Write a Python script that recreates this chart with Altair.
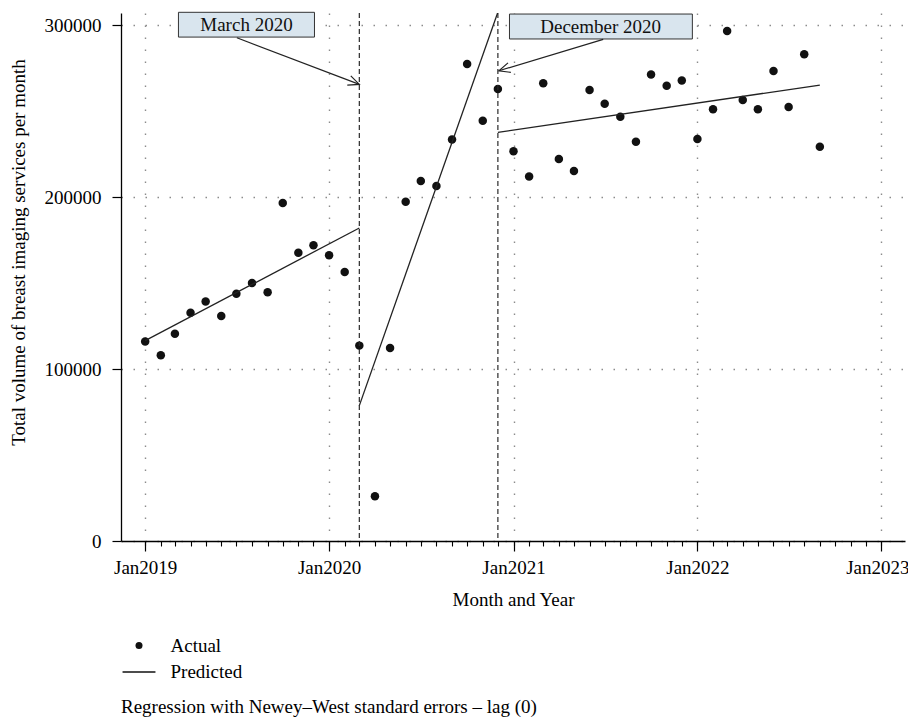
import altair as alt
import pandas as pd

FONT = "Liberation Serif"

# ---- data ----
months = [d.strftime("%Y-%m-%d") for d in pd.date_range("2019-01-01", "2022-09-01", freq="MS")]
actual = [116000, 108000, 120500, 132700, 139300, 130800, 143800, 150000, 144600, 196500, 167600, 171900,
          166100, 156400, 113600, 26000, 112200, 197300, 209300, 206400, 233500, 277300, 244400, 262800,
          226600, 212000, 266100, 222100, 215100, 262200, 254300, 246700, 232200, 271300, 264700, 267800,
          233700, 251000, 296500, 256400, 251000, 273300, 252300, 283000, 229300]

pred_dates = ["2019-01-01", "2020-03-01", "2020-03-01", "2020-12-01", "2020-12-01", "2022-09-01"]
pred_values = [116500, 182000, 78700, 307500, 237600, 265100]
pred_segment = [1, 1, 2, 2, 3, 3]

event_dates = ["2020-03-01", "2020-12-01"]

ann_labels = ["March 2020", "December 2020"]
ann_box_x0 = ["2019-03-08", "2020-12-24"]
ann_box_x1 = ["2019-12-03", "2021-12-22"]
ann_box_y0 = [293000, 291900]
ann_box_y1 = [307400, 306400]
ann_text_x = ["2019-07-21", "2021-06-23"]
ann_text_y = [300200, 299100]
arrow_from_x = ["2019-07-02", "2021-06-28"]
arrow_from_y = [292600, 291700]
arrow_to_x = ["2020-03-01", "2020-12-03"]
arrow_to_y = [265500, 273400]
arrow_angle = [20.75, 163.25]

year_ticks = [int(t.timestamp() * 1000) for t in pd.date_range("2019-01-01", "2023-01-01", freq="YS", tz="UTC")]
month_ticks = [int(t.timestamp() * 1000) for t in pd.date_range("2019-01-01", "2023-01-01", freq="MS", tz="UTC")]

# ---- tables ----
df_act = pd.DataFrame({"date": months, "value": actual, "series": "Actual"})
df_pred = pd.DataFrame({"date": pred_dates, "value": pred_values, "segment": pred_segment})
df_evt = pd.DataFrame({"date": event_dates})
df_ann = pd.DataFrame({
    "label": ann_labels, "x0": ann_box_x0, "x1": ann_box_x1, "y0": ann_box_y0, "y1": ann_box_y1,
    "tx": ann_text_x, "ty": ann_text_y, "fx": arrow_from_x, "fy": arrow_from_y,
    "ax": arrow_to_x, "ay": arrow_to_y, "ang": arrow_angle,
})

x_scale = alt.Scale(type="utc",
                    domain=[alt.DateTime(year=2018, month=11, date=14, utc=True),
                            alt.DateTime(year=2023, month=2, date=17, utc=True)])
y_scale = alt.Scale(domain=[0, 307000], nice=False, zero=True)

GRID_DASH = [1.5, 10.5]
GRID_COLOR = "#8c8c8c"

x_axis = alt.Axis(
    orient="bottom",
    values=year_ticks, labelExpr="utcFormat(datum.value, '%b%Y')",
    labelOffset={"expr": "utcyear(datum.value) == 2023 ? -4 : 0"},
    tickSize=10, grid=True,
    gridDash=GRID_DASH, gridColor=GRID_COLOR, gridWidth=1.4,
    domainColor="black", domainWidth=1.3, tickColor="black", tickWidth=1.2,
    labelFont=FONT, labelFontSize=19, labelColor="black", labelPadding=7,
    labelOverlap=False, labelFlush=False, labelBound=False,
    title="Month and Year", titleFont=FONT, titleFontSize=19, titleFontWeight="normal",
    titleColor="black", titleY=64, titleBaseline="alphabetic",
)
x_minor_axis = alt.Axis(
    orient="bottom", values=month_ticks, tickSize=5, tickColor="black", tickWidth=1.1,
    labels=False, domain=False, grid=False, title=None,
)
y_axis = alt.Axis(
    orient="left",
    values=[0, 100000, 200000, 300000], format="d",
    tickSize=9, tickColor="black", tickWidth=1.2,
    domainColor="black", domainWidth=1.3,
    grid=True, gridDash=GRID_DASH, gridColor=GRID_COLOR, gridWidth=1.4,
    labelFont=FONT, labelFontSize=19, labelColor="black", labelPadding=11,
    title="Total volume of breast imaging services per month",
    titleFont=FONT, titleFontSize=19, titleFontWeight="normal", titleColor="black",
    titleAngle=270, titleX=-103, titleY=239, titleBaseline="middle", titleAlign="center",
)

points = alt.Chart(df_act).mark_point(filled=True, color="#111111", size=72, opacity=1).encode(
    x=alt.X("date:T", scale=x_scale, axis=x_axis),
    y=alt.Y("value:Q", scale=y_scale, axis=y_axis),
    shape=alt.Shape(
        "series:N",
        scale=alt.Scale(domain=["Actual", "Predicted"],
                        range=["circle", "M -4.7 -0.18 L 4.7 -0.18 L 4.7 0.18 L -4.7 0.18 Z"]),
        legend=alt.Legend(
            title=None, orient="none", legendX=8.5, legendY=623,
            symbolSize=49, symbolFillColor="black", symbolStrokeWidth=0,
            labelFont=FONT, labelFontSize=19, labelColor="black", labelOffset=22,
            rowPadding=6.5,
        ),
    ),
)

lines = alt.Chart(df_pred).mark_line(color="#222222", strokeWidth=1.3, clip=True).encode(
    x=alt.X("date:T", scale=x_scale, axis=None),
    y=alt.Y("value:Q", scale=y_scale, axis=None),
    detail="segment:N",
)

events = alt.Chart(df_evt).mark_rule(color="#2a2a2a", strokeWidth=1.2, strokeDash=[5, 3]).encode(
    x=alt.X("date:T", scale=x_scale, axis=x_minor_axis),
)

boxes = alt.Chart(df_ann).mark_rect(fill="#d9e5ee", stroke="#333333", strokeWidth=1).encode(
    x=alt.X("x0:T", scale=x_scale, axis=None), x2="x1:T",
    y=alt.Y("y0:Q", scale=y_scale, axis=None), y2="y1:Q",
)

box_text = alt.Chart(df_ann).mark_text(font=FONT, fontSize=19, color="#111111", baseline="middle",
                                       align="center").encode(
    x=alt.X("tx:T", scale=x_scale, axis=None),
    y=alt.Y("ty:Q", scale=y_scale, axis=None),
    text="label:N",
)

arrow_lines = alt.Chart(df_ann).mark_rule(color="#222222", strokeWidth=1.2).encode(
    x=alt.X("fx:T", scale=x_scale, axis=None), x2="ax:T",
    y=alt.Y("fy:Q", scale=y_scale, axis=None), y2="ay:Q",
)

arrow_heads = alt.Chart(df_ann).mark_point(
    shape="M -1 -0.45 L 0 0 L -1 0.45", filled=False, color="#222222", strokeWidth=1.2,
    size=484, opacity=1,
).encode(
    x=alt.X("ax:T", scale=x_scale, axis=None),
    y=alt.Y("ay:Q", scale=y_scale, axis=None),
    angle=alt.Angle("ang:Q", scale=None),
)

chart = alt.layer(
    points, events, lines, boxes, box_text, arrow_lines, arrow_heads
).resolve_axis(x="independent", y="independent").properties(
    width=784, height=528,
    padding={"left": 113, "top": 5, "right": 3, "bottom": 178},
    autosize=alt.AutoSizeParams(type="none"),
    title=alt.TitleParams(
        "Regression with Newey\u2013West standard errors \u2013 lag (0)",
        orient="bottom", anchor="start", frame="group", offset=16,
        font=FONT, fontSize=19, fontWeight="normal", color="black",
    ),
).configure(
    background="white",
    view=alt.ViewConfig(stroke="transparent", strokeWidth=0),
)

chart.save("out.html", embed_options={"renderer": "svg", "actions": False})
